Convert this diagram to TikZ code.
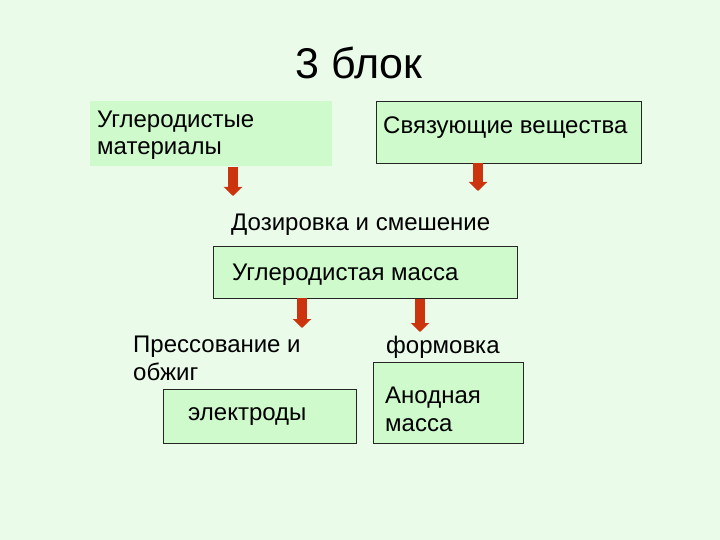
\documentclass[tikz,border=0pt]{standalone}
\usepackage{fontspec}
\setmainfont{Liberation Sans}
\usetikzlibrary{arrows.meta}
\definecolor{bgcol}{RGB}{234,251,234}
\definecolor{boxfill}{RGB}{206,250,204}
\definecolor{arrowred}{RGB}{204,52,14}
\tikzset{
  x=1pt, y=-1pt,
  txt/.style={anchor=base west, inner sep=0pt, font=\fontsize{24}{27.5}\selectfont, align=left},
  box/.style={anchor=north west, inner sep=0pt, fill=boxfill, draw=black!85, line width=0.8pt},
  plainbox/.style={anchor=north west, inner sep=0pt, fill=boxfill},
  downarrow/.style={line width=9.5pt, arrowred, -{Triangle[width=18pt,length=9pt]}}
}
\begin{document}
\begin{tikzpicture}
\fill[bgcol] (0,0) rectangle (720,540);
\useasboundingbox (0,0) rectangle (720,540);
% title
\node[anchor=base, inner sep=0pt, font=\fontsize{43}{48}\selectfont] (title) at (359,79) {3 блок};
% boxes
\node[plainbox, minimum width=242pt, minimum height=65pt] (b1) at (90,101) {};
\node[box, minimum width=265pt, minimum height=62pt] (b2) at (376,101) {};
\node[box, minimum width=304pt, minimum height=52pt] (b3) at (213,246) {};
\node[box, minimum width=193pt, minimum height=54pt] (b4) at (163,389) {};
\node[box, minimum width=150pt, minimum height=81pt] (b5) at (373,362) {};
% texts (multi-line nodes are anchored at the baseline of their last line)
\node[txt] (t1) at (97,155) {Углеродистые\\материалы};
\node[txt] (t2) at (383,134) {Связующие вещества};
\node[txt] (t3) at (231,230) {Дозировка и смешение};
\node[txt] (t4) at (232,280) {Углеродистая масса};
\node[txt] (t5) at (133,380) {Прессование и\\обжиг};
\node[txt] (t6) at (188,420) {электроды};
\node[txt] (t7) at (386,353) {формовка};
\node[txt] (t8) at (385,431) {Анодная\\масса};
% arrows
\coordinate (a1s) at (233,167); \coordinate (a1e) at (233,196);
\coordinate (a2s) at (478,163); \coordinate (a2e) at (478,191);
\coordinate (a3s) at (302,298); \coordinate (a3e) at (302,328);
\coordinate (a4s) at (420,299); \coordinate (a4e) at (420,332);
\draw[downarrow] (a1s) -- (a1e);
\draw[downarrow] (a2s) -- (a2e);
\draw[downarrow] (a3s) -- (a3e);
\draw[downarrow] (a4s) -- (a4e);
\end{tikzpicture}
\end{document}
